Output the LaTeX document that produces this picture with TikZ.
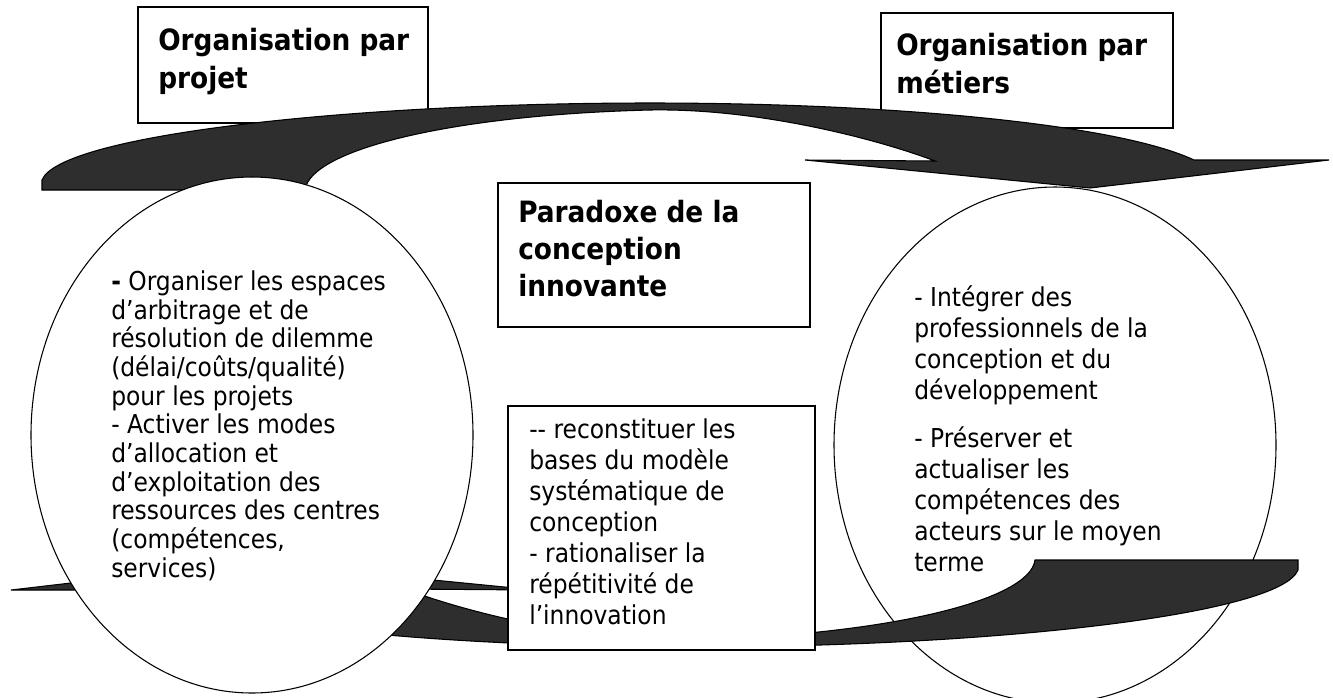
\documentclass[tikz,border=0pt]{standalone}
\usepackage{fontspec}
\setmainfont{DejaVuSansCondensed.ttf}[BoldFont=DejaVuSansCondensed-Bold.ttf]
\usetikzlibrary{shapes.geometric}
\newcommand{\drawflowarrow}[1]{%
  \draw[bigarrow,#1] (42,190) -- (305,190)
    .. controls (310,150) and (450,115) .. (650,110)
    .. controls (760,108) and (880,140) .. (935,161)
    -- (805,160) -- (1090,188) -- (1329,160) -- (1194,160)
    .. controls (1120,125) and (900,103) .. (650,103)
    .. controls (350,103) and (60,135) .. (42,180) -- cycle;}
\begin{document}
\begin{tikzpicture}[x=0.75pt,y=-0.75pt,
  titlebox/.style={draw=black,line width=1pt,fill=white,inner sep=0pt},
  bubble/.style={draw=black,line width=0.8pt,fill=white,ellipse,inner sep=0pt,minimum width=331.5pt,minimum height=387pt},
  bigarrow/.style={draw=black,line width=0.8pt,fill=black!82},
  titletext/.style={font=\fontsize{22}{28.5}\selectfont\bfseries,align=left,anchor=base west,inner sep=0pt},
  bodyA/.style={font=\fontsize{19.5}{21.5}\selectfont,align=left,anchor=base west,inner sep=0pt},
  bodyB/.style={font=\fontsize{19.5}{23.25}\selectfont,align=left,anchor=base west,inner sep=0pt}]
\useasboundingbox (0,0) rectangle (1333,697);
\fill[white] (0,0) rectangle (1333,697);
% title boxes
\node[titlebox,minimum width=217.5pt,minimum height=87pt] (projbox) at (283,65) {};
\node[titlebox,minimum width=219pt,minimum height=86.25pt] (metbox) at (1027,70.5) {};
% top arrow
\drawflowarrow{}
% right ellipse
\node[bubble] (right) at (1055,445) {};
% bottom arrow
\drawflowarrow{rotate around={180:(670,375)}}
% left ellipse
\node[bubble] (left) at (252,435) {};
% centre boxes
\node[titlebox,minimum width=234pt,minimum height=108pt] (parbox) at (654,255) {};
\node[titlebox,minimum width=230.25pt,minimum height=183pt] (recbox) at (661.5,528) {};
% texts (anchored at the baseline of their last line)
\node[titletext] (projtxt) at (158,88) {Organisation par\\projet};
\node[titletext] (mettxt) at (896,93) {Organisation par\\métiers};
\node[titletext,font=\fontsize{22}{27.4}\selectfont\bfseries] (partxt) at (518,296) {Paradoxe de la\\conception\\innovante};
\node[bodyA] (lefttxt) at (111,577) {\textbf{-} Organiser les espaces\\d’arbitrage et de\\résolution de dilemme\\(délai/coûts/qualité)\\pour les projets\\- Activer les modes\\d’allocation et\\d’exploitation des\\ressources des centres\\(compétences,\\services)};
\node[bodyB] (rectxt) at (529,624) {-{}- reconstituer les\\bases du modèle\\systématique de\\conception\\- rationaliser la\\répétitivité de\\l’innovation};
\node[bodyB] (righttxt) at (914,571) {- Intégrer des\\professionnels de la\\conception et du\\développement\\[12.75pt]- Préserver et\\actualiser les\\compétences des\\acteurs sur le moyen\\terme};
\end{tikzpicture}
\end{document}
